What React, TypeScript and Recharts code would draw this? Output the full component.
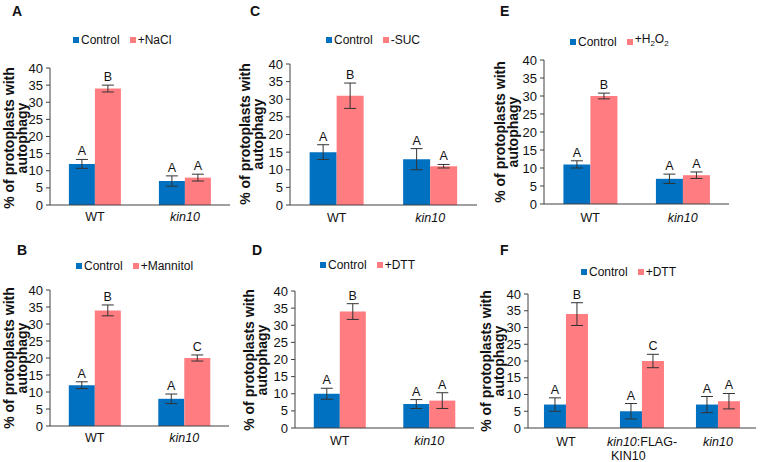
import React from 'react';
import { BarChart, Bar, XAxis, YAxis, ErrorBar, LabelList } from 'recharts';

const FONT = '"Liberation Sans", Arial, sans-serif';
const BLUE = '#0070C0';
const PINK = '#FF7C80';
const AXIS = '#404040';
const ERR = '#333333';

const genotypes = ['WT', 'kin10'];
const genotypesF = ['WT', 'kin10:FLAG-KIN10', 'kin10'];
const yTicks = [0, 5, 10, 15, 20, 25, 30, 35, 40];

// A: +NaCl
const ctrlA = [12, 7];
const ctrlErrA = [1.3, 1.5];
const treatA = [34, 8];
const treatErrA = [1, 1];
const ctrlLetterA = ['A', 'A'];
const treatLetterA = ['B', 'A'];

// B: +Mannitol
const ctrlB = [12, 8];
const ctrlErrB = [1, 1.4];
const treatB = [34, 20];
const treatErrB = [1.6, 0.9];
const ctrlLetterB = ['A', 'A'];
const treatLetterB = ['B', 'C'];

// C: -SUC
const ctrlC = [15, 13];
const ctrlErrC = [2.1, 3];
const treatC = [31, 11];
const treatErrC = [3.6, 0.5];
const ctrlLetterC = ['A', 'A'];
const treatLetterC = ['B', 'A'];

// D: +DTT
const ctrlD = [10, 7];
const ctrlErrD = [1.6, 1.3];
const treatD = [34, 8];
const treatErrD = [2.3, 2.3];
const ctrlLetterD = ['A', 'A'];
const treatLetterD = ['B', 'A'];

// E: +H2O2
const ctrlE = [11, 7];
const ctrlErrE = [1, 1.3];
const treatE = [30, 8];
const treatErrE = [0.8, 0.9];
const ctrlLetterE = ['A', 'A'];
const treatLetterE = ['B', 'A'];

// F: +DTT with complementation line
const ctrlF = [7, 5, 7];
const ctrlErrF = [2, 2.3, 2.4];
const treatF = [34, 20, 8];
const treatErrF = [3.4, 2, 2.3];
const ctrlLetterF = ['A', 'A', 'A'];
const treatLetterF = ['B', 'C', 'A'];

const YW = 40;
const XH = 24;

const CategoryTick = (props: any) => {
  const { x, y, payload, dy } = props;
  const v: string = payload.value;
  const common = { fontSize: 12.5, fontFamily: FONT, fill: '#111' };
  if (v === 'kin10:FLAG-KIN10') {
    return (
      <g>
        <text x={x} y={y + dy} textAnchor="middle" {...common}>
          <tspan fontStyle="italic">kin10</tspan>
          <tspan>:FLAG-</tspan>
        </text>
        <text x={x - 31} y={y + dy + 14} textAnchor="start" {...common}>KIN10</text>
      </g>
    );
  }
  return (
    <text x={x} y={y + dy} textAnchor="middle" {...common} fontStyle={v === 'WT' ? 'normal' : 'italic'}>
      {v}
    </text>
  );
};

const letterContent = (rows: any[], valKey: string, errKey: string) => (props: any) => {
  const { x, y, width, height, value, index } = props;
  const row = rows[index];
  const pxPerUnit = Number(height) / row[valKey];
  const top = Number(y) - row[errKey] * pxPerUnit;
  return (
    <text x={Number(x) + Number(width) / 2} y={top - 4} textAnchor="middle" fontSize={12.5} fontFamily={FONT} fill="#111">
      {value}
    </text>
  );
};

function Panel({ cfg }: { cfg: any }) {
  const { box, plot } = cfg;
  const data = cfg.groups.map((g: string, i: number) => ({
    name: g,
    ctrl: cfg.ctrl[i],
    ctrlErr: cfg.ctrlErr[i],
    treat: cfg.treat[i],
    treatErr: cfg.treatErr[i],
    ctrlLetter: cfg.ctrlLetter[i],
    treatLetter: cfg.treatLetter[i],
  }));
  const margin = {
    left: plot.l - box.x - YW,
    top: plot.t - box.y,
    right: box.x + box.w - plot.r,
    bottom: box.y + box.h - plot.b - XH,
  };
  return (
    <div style={{ position: 'absolute', left: box.x, top: box.y }}>
      <BarChart width={box.w} height={box.h} data={data} margin={margin} barCategoryGap="21%" barGap={0}>
        <XAxis
          dataKey="name"
          height={XH}
          interval={0}
          tickLine={false}
          tickSize={0}
          tickMargin={0}
          axisLine={{ stroke: AXIS }}
          tick={<CategoryTick dy={cfg.tickDy} />}
        />
        <YAxis
          width={YW}
          domain={[0, 40]}
          ticks={yTicks}
          interval={0}
          tickSize={4}
          tickMargin={3}
          axisLine={{ stroke: AXIS }}
          tickLine={{ stroke: AXIS }}
          tick={{ fontSize: 13, fontFamily: FONT, fill: '#111' }}
        />
        <Bar dataKey="ctrl" fill={BLUE} isAnimationActive={false}>
          <ErrorBar dataKey="ctrlErr" width={6} stroke={ERR} strokeWidth={1} direction="y" />
          <LabelList dataKey="ctrlLetter" content={letterContent(data, 'ctrl', 'ctrlErr')} />
        </Bar>
        <Bar dataKey="treat" fill={PINK} isAnimationActive={false}>
          <ErrorBar dataKey="treatErr" width={6} stroke={ERR} strokeWidth={1} direction="y" />
          <LabelList dataKey="treatLetter" content={letterContent(data, 'treat', 'treatErr')} />
        </Bar>
      </BarChart>
    </div>
  );
}

const panels = [
  {
    letter: 'A', letterPos: [12, 4], treatName: <>+NaCl</>, legend: [73, 40], yLabel: [15.5, 138],
    box: { x: 0, y: 0, w: 250, h: 230 }, plot: { l: 50, r: 230, t: 68, b: 205 }, tickDy: 16,
    groups: genotypes, ctrl: ctrlA, ctrlErr: ctrlErrA, treat: treatA, treatErr: treatErrA,
    ctrlLetter: ctrlLetterA, treatLetter: treatLetterA,
  },
  {
    letter: 'C', letterPos: [250, 4], treatName: <>-SUC</>, legend: [326, 40], yLabel: [251.5, 134],
    box: { x: 250, y: 0, w: 250, h: 230 }, plot: { l: 290, r: 477, t: 64, b: 205 }, tickDy: 17,
    groups: genotypes, ctrl: ctrlC, ctrlErr: ctrlErrC, treat: treatC, treatErr: treatErrC,
    ctrlLetter: ctrlLetterC, treatLetter: treatLetterC,
  },
  {
    letter: 'E', letterPos: [500, 4], treatName: <>+H<sub style={{ fontSize: 8 }}>2</sub>O<sub style={{ fontSize: 8 }}>2</sub></>, legend: [570, 42], yLabel: [506.5, 132],
    box: { x: 500, y: 0, w: 260, h: 230 }, plot: { l: 544, r: 729, t: 60, b: 204 }, tickDy: 18,
    groups: genotypes, ctrl: ctrlE, ctrlErr: ctrlErrE, treat: treatE, treatErr: treatErrE,
    ctrlLetter: ctrlLetterE, treatLetter: treatLetterE,
  },
  {
    letter: 'B', letterPos: [17, 243], treatName: <>+Mannitol</>, legend: [76, 266], yLabel: [16, 358],
    box: { x: 0, y: 230, w: 250, h: 232 }, plot: { l: 50, r: 229, t: 290, b: 426 }, tickDy: 16,
    groups: genotypes, ctrl: ctrlB, ctrlErr: ctrlErrB, treat: treatB, treatErr: treatErrB,
    ctrlLetter: ctrlLetterB, treatLetter: treatLetterB,
  },
  {
    letter: 'D', letterPos: [252, 243], treatName: <>+DTT</>, legend: [320, 265], yLabel: [255.5, 360],
    box: { x: 250, y: 230, w: 250, h: 232 }, plot: { l: 295, r: 474, t: 291, b: 428 }, tickDy: 17,
    groups: genotypes, ctrl: ctrlD, ctrlErr: ctrlErrD, treat: treatD, treatErr: treatErrD,
    ctrlLetter: ctrlLetterD, treatLetter: treatLetterD,
  },
  {
    letter: 'F', letterPos: [500, 243], treatName: <>+DTT</>, legend: [581, 272], yLabel: [493, 361],
    box: { x: 500, y: 230, w: 260, h: 232 }, plot: { l: 528, r: 756, t: 294, b: 428 }, tickDy: 18,
    groups: genotypesF, ctrl: ctrlF, ctrlErr: ctrlErrF, treat: treatF, treatErr: treatErrF,
    ctrlLetter: ctrlLetterF, treatLetter: treatLetterF,
  },
];

const Swatch = ({ color }: { color: string }) => (
  <span style={{ display: 'inline-block', width: 6, height: 6, background: color, marginRight: 2 }} />
);

export default function App() {
  return (
    <div style={{ position: 'absolute', left: 0, top: 0, width: 760, height: 462, background: '#fff', fontFamily: FONT, color: '#111' }}>
      {panels.map((p) => (
        <React.Fragment key={p.letter}>
          <Panel cfg={p} />
          <div style={{ position: 'absolute', left: p.letterPos[0], top: p.letterPos[1], fontSize: 14, fontWeight: 'bold', lineHeight: '14px' }}>
            {p.letter}
          </div>
          <div style={{ position: 'absolute', left: p.legend[0], top: p.legend[1] - 7, height: 14, display: 'flex', alignItems: 'center', fontSize: 12, lineHeight: '14px', whiteSpace: 'nowrap' }}>
            <Swatch color={BLUE} />
            <span style={{ marginRight: 10 }}>Control</span>
            <Swatch color={PINK} />
            <span>{p.treatName}</span>
          </div>
          <div
            style={{
              position: 'absolute', left: p.yLabel[0], top: p.yLabel[1],
              transform: 'translate(-50%, -50%) rotate(-90deg)',
              fontSize: 14, fontWeight: 'bold', lineHeight: '13px', textAlign: 'center', whiteSpace: 'nowrap',
            }}
          >
            % of protoplasts with<br />autophagy
          </div>
        </React.Fragment>
      ))}
    </div>
  );
}
